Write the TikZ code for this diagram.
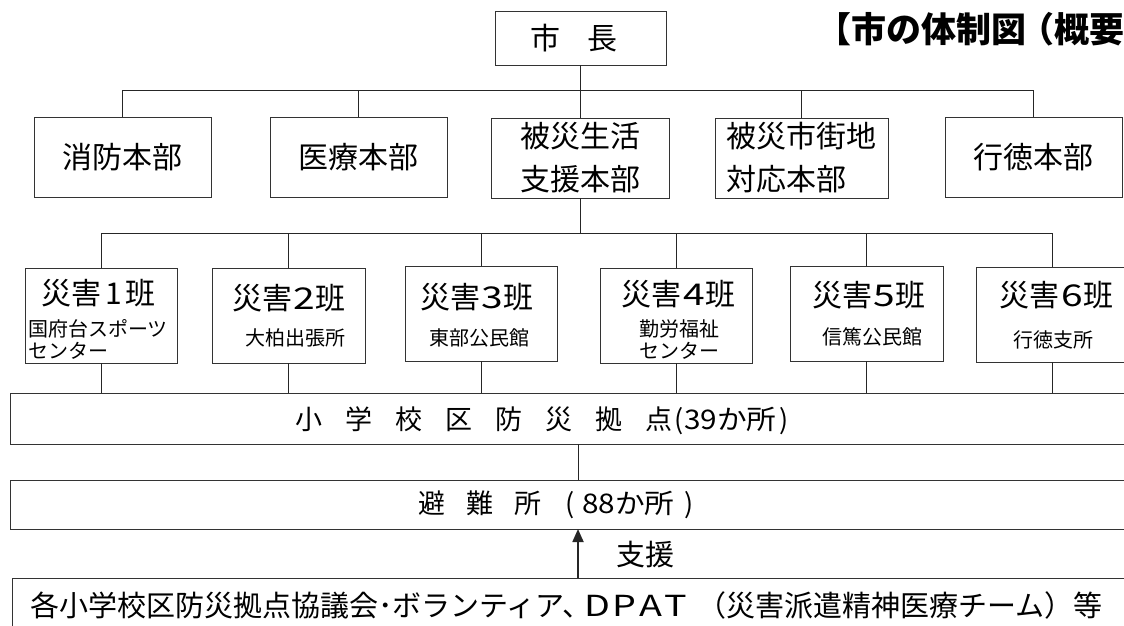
\documentclass[tikz,border=0pt]{standalone}
\usepackage{fontspec}
\setmainfont{Noto Sans CJK JP}
\usetikzlibrary{arrows.meta}
\newcommand\gA{\hspace{23pt}}
\newcommand\gB{\hspace{21pt}}
\newcommand\dg[1]{\hspace{1.5pt}\scalebox{1.3}[1]{#1}\hspace{0.5pt}}
\tikzset{
  frame/.style={draw=black!80, line width=0.9pt, inner sep=0pt, outer sep=0pt},
  link/.style={draw=black!85, line width=0.9pt},
  tbig/.style={inner sep=0pt, font=\fontsize{30}{43}\selectfont},
  tsub/.style={inner sep=0pt, font=\fontsize{20}{22}\selectfont},
  tmid/.style={inner sep=0pt, font=\fontsize{27}{27}\selectfont},
  rowtwo/.style={frame, tbig, minimum height=80pt},
  rowthree/.style={frame, minimum width=152pt, minimum height=95pt},
  wide/.style={frame, minimum width=1130pt}
}
\begin{document}
\begin{tikzpicture}[x=1pt,y=-1pt]
\useasboundingbox (0,0) rectangle (1124,625);
\fill[white] (0,0) rectangle (1124,625);
\clip (0,0) rectangle (1124,625);

% title
\node[inner sep=0pt, anchor=east, font=\bfseries\fontsize{35}{35}\selectfont] (title) at (1125,29) {【市の体制図\hspace{-7pt}（概要};

% mayor
\node[frame, minimum width=171pt, minimum height=54pt] (mayor) at (580.5,38) {};
\node[tbig] (mayorT) at (574,38) {市\hspace{27pt}長};

% row 2
\node[rowtwo, minimum width=177pt] (shobo) at (122.5,157) {消防本部};
\node[rowtwo, minimum width=177pt] (iryo) at (358.5,157) {医療本部};
\node[rowtwo, minimum width=178pt, align=center] (hisai) at (580.5,158) {被災生活\\支援本部};
\node[rowtwo, minimum width=173pt, align=left] (shigai) at (801.5,158) {被災市街地\\対応本部};
\node[rowtwo, minimum width=177pt] (gyotoku) at (1033.5,157) {行徳本部};

% row 3
\node[rowthree] (s1) at (101,315.5) {};
\node[tbig] (s1a) at (98.5,293) {災害\hspace{4pt}1\hspace{3pt}班};
\node[tsub, align=left, anchor=west] (s1b) at (28,339) {国府台スポーツ\\センター};

\node[rowthree, minimum width=153pt] (s2) at (288.5,315.5) {};
\node[tbig] (s2a) at (289,298) {災害\dg{2}班};
\node[tsub] (s2b) at (295,338) {大柏出張所};

\node[rowthree] (s3) at (481,313.5) {};
\node[tbig] (s3a) at (477,297) {災害\dg{3}班};
\node[tsub] (s3b) at (479,338) {東部公民館};

\node[rowthree] (s4) at (676,315.5) {};
\node[tbig] (s4a) at (678.5,294) {災害\dg{4}班};
\node[tsub, align=left, anchor=west] (s4b) at (639,340) {勤労福祉\\センター};

\node[rowthree, minimum width=153pt] (s5) at (866.5,313.5) {};
\node[tbig] (s5a) at (869,295) {災害\dg{5}班};
\node[tsub] (s5b) at (872,337) {信篤公民館};

\node[rowthree] (s6) at (1052,314.5) {};
\node[tbig] (s6a) at (1056.5,295) {災害\dg{6}班};
\node[tsub] (s6b) at (1053.5,340) {行徳支所};

% wide boxes
\node[wide, minimum height=51pt] (sho) at (575,418.5) {};
\node[tmid, anchor=west] (shoT) at (295,421) {小\gA 学\gA 校\gA 区\gA 防\gA 災\gA 拠\gA 点\hspace{2pt}(\hspace{1pt}\scalebox{1.1}[1]{39か所}\hspace{3pt})};

\node[wide, minimum height=49pt] (hinan) at (575,504.5) {};
\node[tmid, anchor=west] (hinanT) at (418,505) {避\gB 難\gB 所\hspace{24pt}(\hspace{8pt}\scalebox{1.1}[1]{88か所}\hspace{10pt})};

\node[frame, minimum width=1128pt, minimum height=80pt] (kaku) at (576,618) {};
\node[inner sep=0pt, anchor=west, font=\fontsize{29}{29}\selectfont] (kakuT) at (30,605) {各小学校区防災拠点協議会･ボランティア、\hspace{-7pt}\scalebox{1.3}[1]{D\hspace{2pt}P\hspace{2pt}A\hspace{2pt}T}\hspace{10pt}（災害派遣精神医療チーム）等};

% connectors
\coordinate (bus1) at (0,90);
\coordinate (bus2) at (0,233);
\coordinate (ax) at (578,0);
\draw[link] (mayor.south) -- (hisai.north);
\draw[link] (shobo.north) |- (gyotoku.north |- bus1) -- (gyotoku.north);
\draw[link] (iryo.north) -- (iryo.north |- bus1);
\draw[link] (shigai.north) -- (shigai.north |- bus1);
\draw[link] (hisai.south) -- (hisai.south |- bus2);
\draw[link] (s1.north) |- (s6.north |- bus2) -- (s6.north);
\foreach \s in {s2,s3,s4,s5} \draw[link] (\s.north) -- (\s.north |- bus2);
\foreach \s in {s1,s2,s3,s4,s5,s6} \draw[link] (\s.south) -- (\s.south |- sho.north);
\draw[link] (sho.south -| ax) -- (hinan.north -| ax);
\draw[link, line width=1.8pt, -{Triangle[length=13pt,width=11pt]}] (kaku.north -| ax) -- (hinan.south -| ax);
\node[inner sep=0pt, font=\fontsize{29}{29}\selectfont] (shien) at (645.5,555) {支援};
\end{tikzpicture}
\end{document}
